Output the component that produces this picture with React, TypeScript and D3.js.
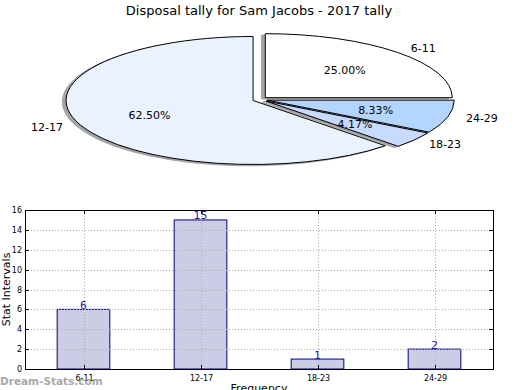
import * as d3 from 'd3';

const categories = ['6-11', '12-17', '18-23', '24-29'];
const tallies = [6, 15, 1, 2];
const pieColors = ['#ffffff', '#ebf2ff', '#c8daff', '#b4d5ff'];
const yTickValues = [0, 2, 4, 6, 8, 10, 12, 14, 16];

const FONT = 'DejaVu Sans, Verdana, sans-serif';

const W = 520;
const H = 390;

// pie geometry (squashed, like the original)
const PIE = {cx: 260, cy: 99.5, rx: 187, ry: 64, explode: 0.04};

// bar chart frame
const BAR = {left: 25, right: 493, top: 210, bottom: 369};

export default function App() {
    const total = d3.sum(tallies);

    // start at 3 o'clock, go counterclockwise
    const pie = d3.pie<number>().sort(null).startAngle(Math.PI / 2).endAngle(Math.PI / 2 - 2 * Math.PI);
    const slices = pie(tallies);
    const arc = d3.arc<any>().innerRadius(0).outerRadius(1);

    const xScale = d3.scaleBand().domain(categories).range([BAR.left, BAR.right]).padding(0);
    const yScale = d3.scaleLinear().domain([0, 16]).range([BAR.bottom, BAR.top]);
    const barW = xScale.bandwidth() * 0.45;

    const wedgeCenter = (s: any) => {
        const mid = (s.startAngle + s.endAngle) / 2;
        return {
            mid,
            x: PIE.cx + PIE.explode * Math.sin(mid) * PIE.rx,
            y: PIE.cy - PIE.explode * Math.cos(mid) * PIE.ry
        };
    };

    return (
        <svg width={W} height={H} style={{position: 'absolute', left: 0, top: 0, background: '#fff'}} fontFamily={FONT}>
            <text x={259} y={15} textAnchor="middle" fontSize={13}>Disposal tally for Sam Jacobs - 2017 tally</text>

            {/* shadows */}
            {slices.map((s, i) => {
                const c = wedgeCenter(s);
                return (
                    <path key={'sh' + i} d={arc(s) as string}
                        transform={`translate(${c.x - 3.7}, ${c.y + 1.3}) scale(${PIE.rx}, ${PIE.ry})`}
                        fill="#4d4d4d" stroke="#4d4d4d" opacity={0.5}
                        strokeWidth={1} vectorEffect="non-scaling-stroke" />
                );
            })}

            {/* wedges */}
            {slices.map((s, i) => {
                const c = wedgeCenter(s);
                return (
                    <path key={'w' + i} d={arc(s) as string}
                        transform={`translate(${c.x}, ${c.y}) scale(${PIE.rx}, ${PIE.ry})`}
                        fill={pieColors[i]} stroke="#000" strokeWidth={1} vectorEffect="non-scaling-stroke" />
                );
            })}

            {/* labels */}
            {slices.map((s, i) => {
                const c = wedgeCenter(s);
                const lx = c.x + 1.1 * Math.sin(c.mid) * PIE.rx;
                const ly = c.y - 1.1 * Math.cos(c.mid) * PIE.ry;
                const px = c.x + 0.6 * Math.sin(c.mid) * PIE.rx;
                const py = c.y - 0.6 * Math.cos(c.mid) * PIE.ry;
                return (
                    <g key={'l' + i} fontSize={11}>
                        <text x={lx} y={ly} dy="0.35em" textAnchor={Math.sin(c.mid) >= 0 ? 'start' : 'end'}>{categories[i]}</text>
                        <text x={px} y={py} dy="0.35em" textAnchor="middle">{(tallies[i] / total * 100).toFixed(2)}%</text>
                    </g>
                );
            })}

            {/* bars */}
            {categories.map((c, i) => {
                const cx = (xScale(c) as number) + xScale.bandwidth() / 2;
                return (
                    <rect key={'b' + c} x={cx - barW / 2} y={yScale(tallies[i])}
                        width={barW} height={BAR.bottom - yScale(tallies[i])}
                        fill="#ccccE5" stroke="#000080" strokeWidth={1} />
                );
            })}

            {/* grid */}
            <g stroke="#aaaaaa" strokeDasharray="1,2" strokeWidth={1}>
                {yTickValues.map((t) => (
                    <line key={'gy' + t} x1={BAR.left} x2={BAR.right} y1={Math.round(yScale(t)) + 0.5} y2={Math.round(yScale(t)) + 0.5} />
                ))}
                {categories.map((c) => {
                    const cx = Math.round((xScale(c) as number) + xScale.bandwidth() / 2) + 0.5;
                    return <line key={'gx' + c} x1={cx} x2={cx} y1={BAR.top} y2={BAR.bottom} />;
                })}
            </g>

            {/* value labels */}
            {categories.map((c, i) => {
                const cx = (xScale(c) as number) + xScale.bandwidth() / 2;
                return (
                    <text key={'v' + c} x={cx} y={yScale(tallies[i]) - 0.5} textAnchor="middle" fontSize={11} fill="#1c1ca8">{tallies[i]}</text>
                );
            })}

            {/* frame */}
            <rect x={BAR.left + 0.5} y={BAR.top + 0.5} width={BAR.right - BAR.left} height={BAR.bottom - BAR.top} fill="none" stroke="#000" strokeWidth={1} />

            {/* ticks */}
            <g fontSize={8}>
                {yTickValues.map((t) => {
                    const y = Math.round(yScale(t)) + 0.5;
                    return (
                        <g key={'yt' + t}>
                            <line x1={BAR.left} x2={BAR.left + 4} y1={y} y2={y} stroke="#000" />
                            <line x1={BAR.right - 4} x2={BAR.right} y1={y} y2={y} stroke="#000" />
                            <text x={BAR.left - 3} y={y} dy="0.35em" textAnchor="end">{t}</text>
                        </g>
                    );
                })}
                {categories.map((c) => {
                    const cx = Math.round((xScale(c) as number) + xScale.bandwidth() / 2) + 0.5;
                    return (
                        <g key={'xt' + c}>
                            <line x1={cx} x2={cx} y1={BAR.bottom - 4} y2={BAR.bottom} stroke="#000" />
                            <line x1={cx} x2={cx} y1={BAR.top} y2={BAR.top + 4} stroke="#000" />
                            <text x={cx} y={BAR.bottom + 12} textAnchor="middle">{c}</text>
                        </g>
                    );
                })}
            </g>

            <text x={259} y={392} textAnchor="middle" fontSize={11}>Frequency</text>
            <text transform={`translate(10, ${(BAR.top + BAR.bottom) / 2}) rotate(-90)`} textAnchor="middle" fontSize={11}>Stat Intervals</text>

            <text x={0} y={385} fontSize={10.5} fontWeight="bold" fill="#999999" opacity={0.85}>Dream-Stats.com</text>
        </svg>
    );
}
